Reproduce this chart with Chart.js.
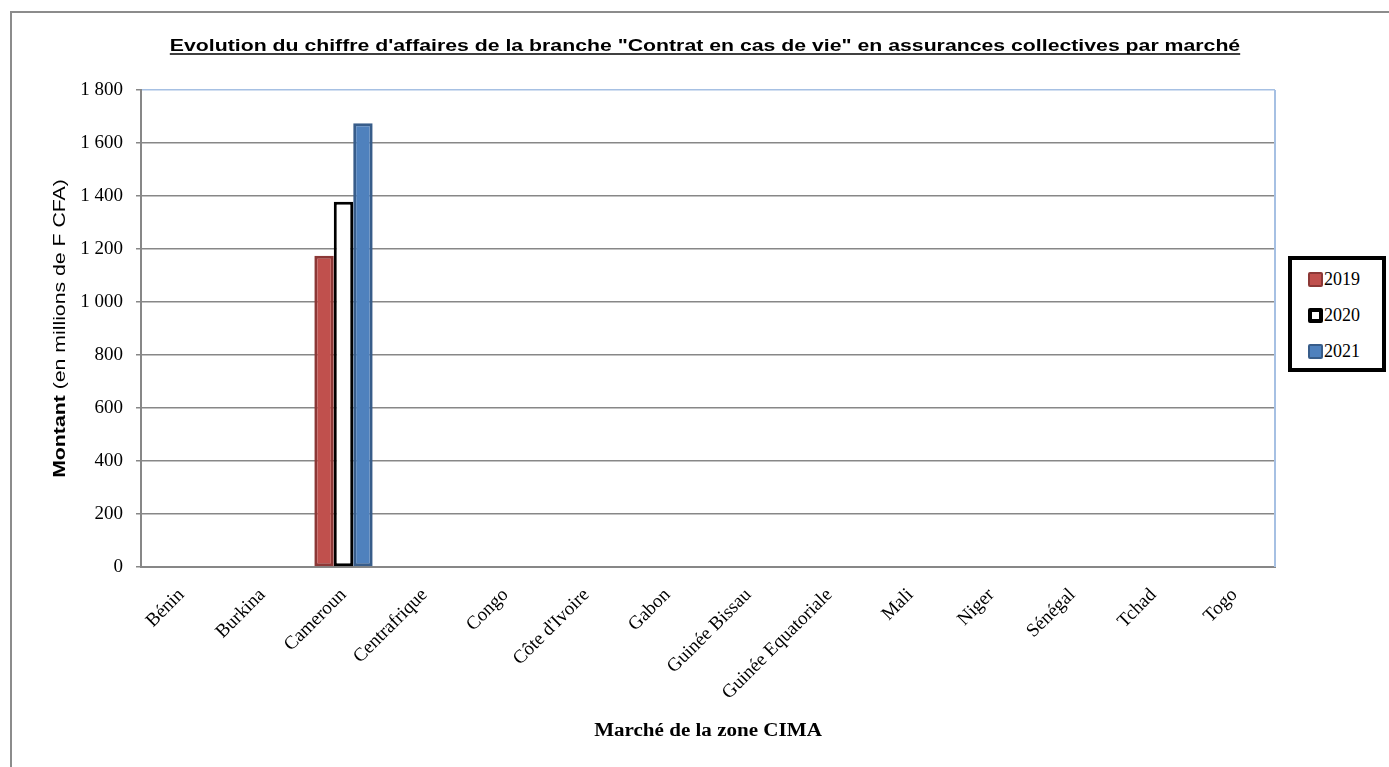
<!DOCTYPE html>
<html>
<head>
<meta charset="utf-8">
<script src="https://cdn.jsdelivr.net/npm/chart.js@4.4.1/dist/chart.umd.min.js"></script>
<style>
  html, body { margin: 0; padding: 0; background: #fff; }
  #wrap { position: relative; width: 1389px; height: 767px; }
  #legend {
    position: absolute; left: 1288px; top: 256px; width: 90px; height: 108px;
    border: 4px solid #000; background: #fff;
    font-family: "Liberation Serif", serif; font-size: 18px; color: #000;
  }
  #legend .item { position: absolute; left: 16px; height: 20px; line-height: 20px; white-space: nowrap; }
  #legend .box { display: inline-block; width: 15px; height: 15px; box-sizing: border-box; vertical-align: -2px; margin-right: 1px; border-radius: 2px; }
</style>
</head>
<body>
<div id="wrap">
  <canvas id="myChart" width="1389" height="767"></canvas>
  <div id="legend"></div>
</div>
<script>
	var markets = ['Bénin', 'Burkina', 'Cameroun', 'Centrafrique', 'Congo', "Côte d'Ivoire", 'Gabon',
		'Guinée Bissau', 'Guinée Equatoriale', 'Mali', 'Niger', 'Sénégal', 'Tchad', 'Togo'];
	var years = ['2019', '2020', '2021'];
	var data2019 = [null, null, 1175, null, null, null, null, null, null, null, null, null, null, null];
	var data2020 = [null, null, 1378, null, null, null, null, null, null, null, null, null, null, null];
	var data2021 = [null, null, 1675, null, null, null, null, null, null, null, null, null, null, null];
	var yTicks = [0, 200, 400, 600, 800, 1000, 1200, 1400, 1600, 1800];

	var chartTitle = 'Evolution du chiffre d\'affaires de la branche "Contrat en cas de vie" en assurances collectives par marché';
	var xTitle = 'Marché de la zone CIMA';
	var yTitleBold = 'Montant';
	var yTitleRest = ' (en millions de F CFA)';

	var gridGrey = '#878787';
	var frameBlue = '#a6c0e3';
	var sans = '"Liberation Sans", Arial, sans-serif';
	var serif = '"Liberation Serif", "Times New Roman", serif';

	// outer frame, titles, right border
	var decorations = {
		id : 'decorations',
		beforeDraw : function(chart) {
			var ctx = chart.ctx;
			ctx.save();
			ctx.fillStyle = '#fff';
			ctx.fillRect(0, 0, chart.width, chart.height);
			ctx.strokeStyle = '#8c8c8c';
			ctx.lineWidth = 2;
			ctx.beginPath();
			ctx.moveTo(11, chart.height);
			ctx.lineTo(11, 12);
			ctx.lineTo(chart.width, 12);
			ctx.stroke();
			ctx.restore();
		},
		afterDraw : function(chart) {
			var ctx = chart.ctx;
			var area = chart.chartArea;
			var cx = (area.left + area.right) / 2;
			ctx.save();
			// right border of plot area
			ctx.strokeStyle = frameBlue;
			ctx.lineWidth = 2;
			ctx.beginPath();
			ctx.moveTo(area.right, area.top);
			ctx.lineTo(area.right, area.bottom);
			ctx.stroke();
			ctx.restore();

			// main title, underlined
			ctx.save();
			ctx.font = 'bold 17px ' + sans;
			var w = ctx.measureText(chartTitle).width;
			ctx.translate(cx - 3, 51);
			ctx.scale(1.25, 1);
			ctx.fillStyle = '#000';
			ctx.textAlign = 'center';
			ctx.textBaseline = 'alphabetic';
			ctx.fillText(chartTitle, 0, 0);
			ctx.strokeStyle = '#000';
			ctx.lineWidth = 1.6;
			ctx.beginPath();
			ctx.moveTo(-w / 2, 3);
			ctx.lineTo(w / 2, 3);
			ctx.stroke();
			ctx.restore();

			// x title
			ctx.save();
			ctx.font = 'bold 18px ' + serif;
			ctx.translate(cx, 731);
			ctx.scale(1.17, 1);
			ctx.fillStyle = '#000';
			ctx.textAlign = 'center';
			ctx.textBaseline = 'middle';
			ctx.fillText(xTitle, 0, 0);
			ctx.restore();

			// y title: bold + normal parts
			ctx.save();
			var f1 = 'bold 17px ' + sans;
			var f2 = '17px ' + sans;
			ctx.font = f1;
			var w1 = ctx.measureText(yTitleBold).width;
			ctx.font = f2;
			var w2 = ctx.measureText(yTitleRest).width;
			ctx.translate(60, (area.top + area.bottom) / 2);
			ctx.rotate(-Math.PI / 2);
			ctx.scale(1.25, 1);
			ctx.fillStyle = '#000';
			ctx.textBaseline = 'middle';
			ctx.textAlign = 'left';
			ctx.font = f1;
			ctx.fillText(yTitleBold, -(w1 + w2) / 2, 0);
			ctx.font = f2;
			ctx.fillText(yTitleRest, -(w1 + w2) / 2 + w1, 0);
			ctx.restore();
		}
	};

	const data1 = {
		labels : markets,
		datasets : [ {
			label : years[0],
			backgroundColor : '#c0504d',
			borderColor : '#8c3836',
			borderWidth : 3,
			borderSkipped : false,
			data : data2019,
		}, {
			label : years[1],
			backgroundColor : '#ffffff',
			borderColor : '#000000',
			borderWidth : 3,
			borderSkipped : false,
			data : data2020,
		}, {
			label : years[2],
			backgroundColor : '#4f81bd',
			borderColor : '#385d8a',
			borderWidth : 3,
			borderSkipped : false,
			data : data2021,
		} ]
	};

	const config = {
		type : 'bar',
		data : data1,
		plugins : [ decorations ],
		options : {
			responsive : false,
			animation : false,
			layout : {
				padding : { left : 0, right : 114, top : 90, bottom : 0 }
			},
			datasets : {
				bar : { categoryPercentage : 0.72, barPercentage : 1.0 }
			},
			plugins : {
				legend : { display : false },
				tooltip : { enabled : false },
				title : { display : false },
			},
			scales : {
				x : {
					afterFit : function(scale) { scale.height = 200; },
					grid : { display : false },
					border : { display : true, color : gridGrey, width : 2 },
					ticks : {
						color : '#000',
						minRotation : 45,
						maxRotation : 45,
						autoSkip : false,
						padding : 9,
						font : { family : serif, size : 19 },
					},
				},
				y : {
					min : 0,
					max : 1800,
					afterFit : function(scale) { scale.width = 141; },
					afterBuildTicks : function(scale) {
						scale.ticks = yTicks.map(function(v) { return { value : v }; });
					},
					grid : {
						color : function(c) { return c.tick && c.tick.value === 1800 ? frameBlue : gridGrey; },
						lineWidth : 1.5,
						tickColor : gridGrey,
						tickLength : 5,
						drawTicks : true,
					},
					border : { display : true, color : gridGrey, width : 2 },
					ticks : {
						color : '#000',
						padding : 13,
						font : { family : serif, size : 19 },
						callback : function(v) {
							return String(v).replace(/\B(?=(\d{3})+(?!\d))/g, ' ');
						},
					},
				},
			},
		},
	};

	var myChart = new Chart(document.getElementById('myChart'), config);

	// legend built from the datasets
	var legendEl = document.getElementById('legend');
	myChart.data.datasets.forEach(function(ds, i) {
		var item = document.createElement('div');
		item.className = 'item';
		item.style.top = (9 + i * 36) + 'px';
		var box = document.createElement('span');
		box.className = 'box';
		box.style.background = ds.backgroundColor;
		box.style.border = (i === 1 ? 4 : 2) + 'px solid ' + ds.borderColor;
		item.appendChild(box);
		item.appendChild(document.createTextNode(ds.label));
		legendEl.appendChild(item);
	});
</script>
</body>
</html>
